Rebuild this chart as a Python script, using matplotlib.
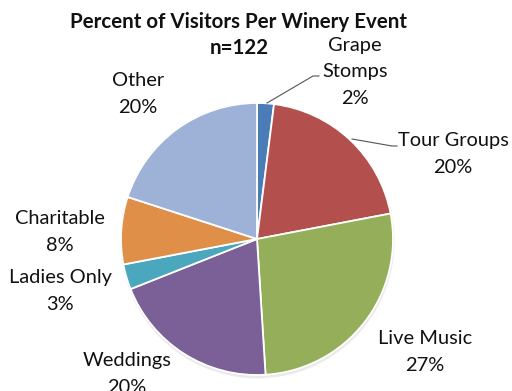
import matplotlib
matplotlib.use("Agg")
import matplotlib.pyplot as plt
from matplotlib.patches import Circle

plt.rcParams['font.family'] = ['Lato', 'DejaVu Sans']

events = ["Grape\nStomps", "Tour Groups", "Live Music", "Weddings",
          "Ladies Only", "Charitable", "Other"]
percents = [2, 20, 27, 20, 3, 8, 20]
colors = ["#4a7db8", "#b3504d", "#95ae59", "#7a6097",
          "#4aa7bd", "#e08f48", "#9db2d6"]

# label anchor positions (pixel coords, y measured from top)
label_pos = [(355, 72), (453, 154), (425, 352), (127, 374),
             (60, 291), (60, 232), (138, 94)]

W, H = 512, 391
fig = plt.figure(figsize=(W / 100, H / 100), dpi=100)
ax = fig.add_axes([0, 0, 1, 1])

cx, cy, r = 257, H - 239, 136

# soft shadow under the pie
for i, a in enumerate([0.05, 0.05, 0.06]):
    ax.add_patch(Circle((cx + 0.5, cy - 1.5 - i * 0.8), r + 1.5 - i * 0.5,
                        color='#808080', alpha=a, lw=0, zorder=0))

wedges, _ = ax.pie(percents, colors=colors, startangle=90, counterclock=False,
                   center=(cx, cy), radius=r, frame=True,
                   wedgeprops=dict(edgecolor='white', linewidth=1.3))
ax.set_xlim(0, W)
ax.set_ylim(0, H)
ax.set_aspect('equal')
ax.axis('off')

fs = 14.4
for name, pct, (px, py) in zip(events, percents, label_pos):
    ax.text(px, H - py, f"{name}\n{pct}%", ha='center', va='center',
            fontsize=fs, color='#111111', linespacing=1.68)

# leader lines
ax.plot([267, 313, 319], [H - 103, H - 76, H - 76], color='#555555', lw=0.8)
ax.plot([352, 392, 397], [H - 139, H - 146, H - 146], color='#555555', lw=0.8)

ax.text(238, H - 22, "Percent of Visitors Per Winery Event", ha='center',
        va='center', fontsize=14.8, fontweight='bold', color='#111111')
ax.text(239, H - 48, "n=122", ha='center', va='center', fontsize=14.8,
        fontweight='bold', color='#111111')

fig.savefig("out.png", dpi=100)
